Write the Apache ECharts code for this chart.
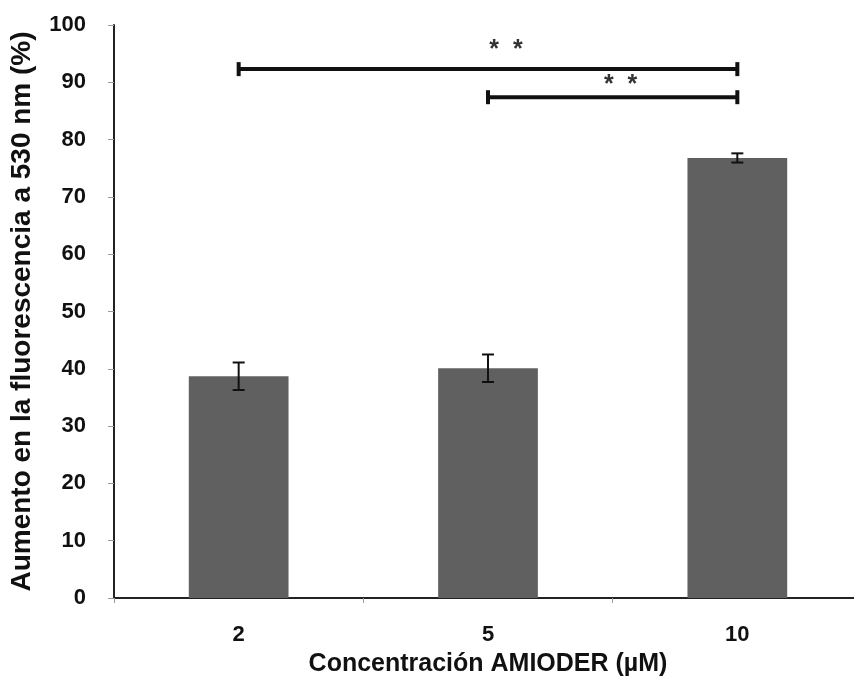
<!DOCTYPE html>
<html>
<head>
<meta charset="utf-8">
<script src="https://cdn.jsdelivr.net/npm/echarts@6/dist/echarts.min.js"></script>
<style>
  html, body { margin: 0; padding: 0; background: #fff; }
  #main { width: 854px; height: 679px; }
</style>
</head>
<body>
<div id="main"></div>
<script>
// datos
var categories = ['2', '5', '10'];
var means = [38.7, 40.1, 76.8];
var errs = [2.4, 2.4, 0.8];
// barras de significancia: [desde, hasta, y]
var brackets = [[0, 2, 92.3], [1, 2, 87.4]];
var starLabels = ['*  *', '*  *'];

var chart = echarts.init(document.getElementById('main'));

var font = 'Liberation Sans, Arial, sans-serif';

var option = {
  backgroundColor: '#fff',
  animation: false,
  grid: { left: 114, right: -8, top: 25, bottom: 81, outerBoundsMode: 'none' },
  xAxis: {
    type: 'category',
    data: categories,
    name: 'Concentración AMIODER (µM)',
    nameLocation: 'middle',
    nameGap: 54,
    nameTextStyle: { fontFamily: font, fontWeight: 'bold', fontSize: 25, color: '#111' },
    axisLine: { lineStyle: { color: '#222', width: 2 } },
    axisTick: { show: true, length: 5, lineStyle: { color: '#999' } },
    axisLabel: { fontFamily: font, fontWeight: 'bold', fontSize: 22, color: '#111', margin: 26 }
  },
  yAxis: {
    type: 'value',
    min: 0,
    max: 100,
    interval: 10,
    name: 'Aumento en la fluorescencia a 530 nm (%)',
    nameLocation: 'middle',
    nameGap: 78,
    nameTextStyle: { fontFamily: font, fontWeight: 'bold', fontSize: 28, color: '#111' },
    axisLine: { show: true, lineStyle: { color: '#222', width: 2 } },
    axisTick: { show: true, length: 6, lineStyle: { color: '#999' } },
    axisLabel: { fontFamily: font, fontWeight: 'bold', fontSize: 22, color: '#111', margin: 28 },
    splitLine: { show: false }
  },
  series: [
    {
      type: 'bar',
      data: means,
      barWidth: '40%',
      itemStyle: { color: '#606060' }
    },
    {
      // barras de error
      type: 'custom',
      data: means.map(function (m, i) { return [i, m - errs[i], m + errs[i]]; }),
      z: 5,
      renderItem: function (params, api) {
        var lo = api.coord([api.value(0), api.value(1)]);
        var hi = api.coord([api.value(0), api.value(2)]);
        var hw = 6;
        var st = { stroke: '#111', lineWidth: 2 };
        return {
          type: 'group',
          children: [
            { type: 'line', shape: { x1: lo[0], y1: lo[1], x2: hi[0], y2: hi[1] }, style: st },
            { type: 'line', shape: { x1: lo[0] - hw, y1: lo[1], x2: lo[0] + hw, y2: lo[1] }, style: st },
            { type: 'line', shape: { x1: hi[0] - hw, y1: hi[1], x2: hi[0] + hw, y2: hi[1] }, style: st }
          ]
        };
      }
    },
    {
      // significancia
      type: 'custom',
      data: brackets,
      z: 5,
      renderItem: function (params, api) {
        var a = api.coord([api.value(0), api.value(2)]);
        var b = api.coord([api.value(1), api.value(2)]);
        var st = { stroke: '#111', lineWidth: 4 };
        var cap = 7;
        var first = params.dataIndex === 0;
        var starX = first ? (a[0] + b[0]) / 2 + 18 : (a[0] + b[0]) / 2 + 8;
        var starY = first ? a[1] - 19 : a[1] - 12;
        return {
          type: 'group',
          children: [
            { type: 'line', shape: { x1: a[0], y1: a[1], x2: b[0], y2: b[1] }, style: st },
            { type: 'line', shape: { x1: a[0], y1: a[1] - cap, x2: a[0], y2: a[1] + cap }, style: st },
            { type: 'line', shape: { x1: b[0], y1: b[1] - cap, x2: b[0], y2: b[1] + cap }, style: st },
            {
              type: 'text',
              style: {
                x: starX, y: starY,
                text: starLabels[params.dataIndex],
                fontFamily: font, fontWeight: 'bold', fontSize: 25,
                fill: '#333', align: 'center', verticalAlign: 'middle'
              }
            }
          ]
        };
      }
    }
  ]
};

chart.setOption(option);
</script>
</body>
</html>
